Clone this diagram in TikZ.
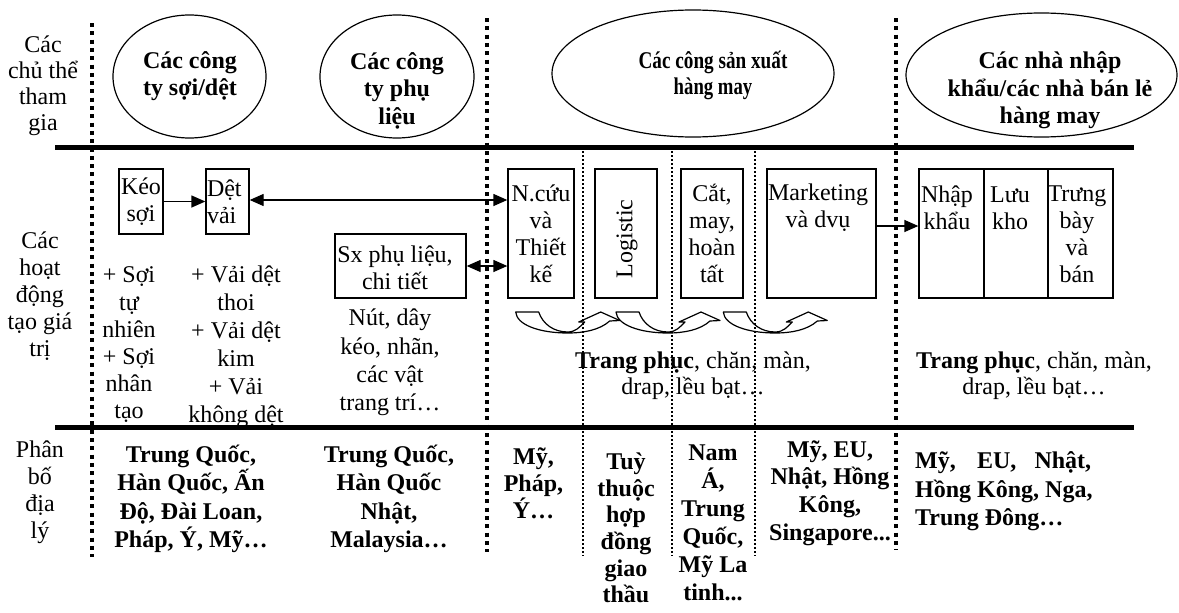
\documentclass[tikz,border=0pt]{standalone}
\usepackage{fontspec}
\setmainfont{Liberation Serif}
\usetikzlibrary{shapes.geometric,arrows.meta}
\begin{document}
\begin{tikzpicture}[x=1pt,y=-1pt,
  txt/.style={inner sep=0pt, align=center, font=\fontsize{24}{27}\selectfont},
  btxt/.style={inner sep=0pt, align=center, font=\fontsize{24}{28}\selectfont\bfseries},
  box/.style={draw, line width=1.3pt, inner sep=0pt, align=center, font=\fontsize{24}{27}\selectfont},
  ell/.style={draw, ellipse, line width=1.2pt, inner sep=0pt},
  arr/.style={line width=1.3pt, -{Triangle[length=14pt,width=12pt]}},
  darr/.style={line width=1.3pt, {Triangle[length=14pt,width=12pt]}-{Triangle[length=14pt,width=12pt]}},
  curv/.style={draw, fill=white, line width=1.2pt, line join=round},
  thickdot/.style={line width=4.5pt, dash pattern=on 4pt off 4.3pt},
  thindot/.style={line width=2pt, dash pattern=on 2pt off 2pt},
  rule/.style={line width=5pt}
]
\useasboundingbox[fill=white] (0,0) rectangle (1179,613);

% ---- row 1: actors
\node[txt, font=\fontsize{24}{26}\selectfont] (l1) at (43,86) {Các\\chủ thể\\tham\\gia};
\node[ell, minimum width=153pt, minimum height=123pt] (e1) at (189.5,76.5) {};
\node[btxt, font=\fontsize{24}{27}\selectfont\bfseries] (e1t) at (190,76.5) {Các công\\ty sợi/dệt};
\node[ell, minimum width=154pt, minimum height=123pt] (e2) at (397,76.5) {};
\node[btxt, font=\fontsize{24}{27.5}\selectfont\bfseries] (e2t) at (397,90.5) {Các công\\ty phụ\\liệu};
\node[ell, minimum width=282pt, minimum height=127pt] (e3) at (693,73.5) {};
\node[btxt, font=\fontsize{24}{26}\selectfont\bfseries] (e3t) at (713,75) {\scalebox{0.8}[1]{Các công sản xuất}\\\scalebox{0.78}[1]{hàng may}};
\node[ell, minimum width=271pt, minimum height=124pt] (e4) at (1041.5,75) {};
\node[btxt, font=\fontsize{24}{27.5}\selectfont\bfseries] (e4t) at (1050,90.5) {Các nhà nhập\\khẩu/các nhà bán lẻ\\hàng may};

% ---- row 2: activities
\node[txt] (l2) at (40,296) {Các\\hoạt\\động\\tạo giá\\trị};
\node[box, minimum width=44pt, minimum height=65pt] (keo) at (141,201.5) {Kéo\\sợi};
\node[box, minimum width=43pt, minimum height=65pt, text width=41pt, align=left] (det) at (227.5,201.5) {Dệt\\vải};
\node[box, minimum width=131pt, minimum height=64pt] (sx) at (400.5,266) {};
\node[txt] (sxt) at (395,268) {Sx phụ liệu,\\chi tiết};
\node[box, minimum width=66pt, minimum height=129pt] (ncuu) at (541,233.5) {N.cứu\\và\\Thiết\\kế};
\node[box, minimum width=62pt, minimum height=129pt] (logi) at (626,233.5) {};
\node[txt, rotate=90] (logit) at (627,239) {Logistic};
\node[box, minimum width=62pt, minimum height=129pt] (cat) at (712,233.5) {Cắt,\\may,\\hoàn\\tất};
\node[box, minimum width=109pt, minimum height=129pt] (mkt) at (821.5,233.5) {};
\node[txt] (mktt) at (818,208) {Marketing\\và dvụ};
\node[box, minimum width=65pt, minimum height=129pt] (nk) at (951.5,233.5) {};
\node[box, minimum width=64pt, minimum height=129pt] (lk) at (1016,233.5) {};
\node[box, minimum width=65pt, minimum height=129pt] (tb) at (1080.5,233.5) {};
\node[txt] (nkt) at (947,208) {Nhập\\khẩu};
\node[txt] (lkt) at (1010,208) {Lưu\\kho};
\node[txt] (tbt) at (1077,234) {Trưng\\bày\\và\\bán};

\draw[arr] (keo.east) -- (det.west);
\draw[darr] ([yshift=1.5pt]det.east) -- ([yshift=1.5pt]det.east -| ncuu.west);
\draw[darr] (sx.east) -- (sx.east -| ncuu.west);
\coordinate (m1) at ([yshift=7.5pt]mkt.east);
\draw[arr] (m1) -- (m1 -| nk.west);

\node[txt, font=\fontsize{24}{27.2}\selectfont] (soi) at (129,345) {+ Sợi\\tự\\nhiên\\+ Sợi\\nhân\\tạo};
\node[txt, font=\fontsize{24}{28}\selectfont] (vai) at (236,347) {+ Vải dệt\\thoi\\+ Vải dệt\\kim\\+ Vải\\không dệt};
\node[txt, font=\fontsize{24}{28.3}\selectfont] (nut) at (390,362.5) {Nút, dây\\kéo, nhãn,\\các vật\\trang trí…};

% curved arrows
\foreach \x in {515.7,616,723.3} {
  \draw[curv] (\x,312) -- ++(23,0)
    .. controls +(4,12) and +(-14,0) .. ++(29,20)
    .. controls +(8,0) and +(-5,5) .. ++(17,-10)
    -- ++(-6,0)
    -- ++(22,-10)
    -- ++(19,8.5)
    -- ++(-10,0.5)
    .. controls +(-10,9) and +(16,0) .. ++(-42,12)
    .. controls +(-28,0) and (\x+1,325) .. (\x,312) -- cycle;
}

\node[txt, font=\fontsize{24}{26}\selectfont] (tp1) at (693,376) {\textbf{Trang phục}, chăn, màn,\\drap, lều bạt…};
\node[txt, font=\fontsize{24}{26}\selectfont] (tp2) at (1034,376) {\textbf{Trang phục}, chăn, màn,\\drap, lều bạt…};

% ---- row 3: geography
\node[txt] (l3) at (40,492.5) {Phân\\bố\\địa\\lý};
\node[btxt, font=\fontsize{24}{28.3}\selectfont\bfseries] (g1) at (191,499) {Trung Quốc,\\Hàn Quốc, Ấn\\Độ, Đài Loan,\\Pháp, Ý, Mỹ…};
\node[btxt, font=\fontsize{24}{28.3}\selectfont\bfseries] (g2) at (389,499) {Trung Quốc,\\Hàn Quốc\\Nhật,\\Malaysia…};
\node[btxt, font=\fontsize{24}{27}\selectfont\bfseries] (g3) at (533.5,483) {Mỹ,\\Pháp,\\Ý…};
\node[btxt, font=\fontsize{24}{26.7}\selectfont\bfseries] (g4) at (626,528) {Tuỳ\\thuộc\\hợp\\đồng\\giao\\thầu};
\node[btxt, font=\fontsize{24}{28}\selectfont\bfseries] (g5) at (713,523) {Nam\\Á,\\Trung\\Quốc,\\Mỹ La\\tinh...};
\node[btxt, font=\fontsize{24}{27.8}\selectfont\bfseries] (g6) at (830,493) {Mỹ, EU,\\Nhật, Hồng\\Kông,\\Singapore...};
\node[btxt, align=left, anchor=west, font=\fontsize{24}{28.5}\selectfont\bfseries] (g7) at (915,491.5) {\makebox[176pt][s]{Mỹ, EU, Nhật,}\\Hồng Kông, Nga,\\Trung Đông…};

% ---- separators
\foreach \x in {583.4,671.7,755} \draw[thindot] (\x,151) -- (\x,556);
\draw[thickdot] (92,23) -- (92,557);
\draw[thickdot] (487,18) -- (487,552);
\draw[thickdot] (896,18) -- (896,550);
\draw[rule] (55,147) -- (1134,147);
\draw[rule] (55,427) -- (1134,427);
\end{tikzpicture}
\end{document}
